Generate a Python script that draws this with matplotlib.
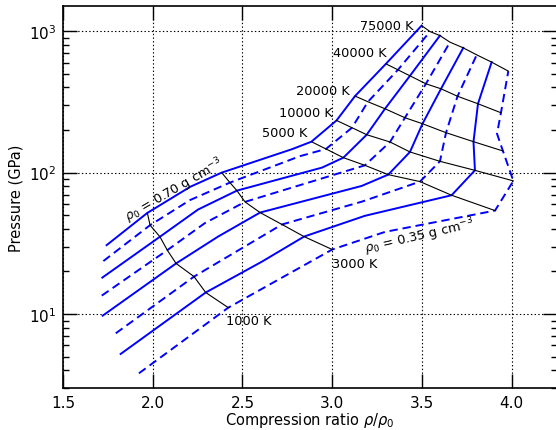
import numpy as np
import matplotlib
matplotlib.use('Agg')
import matplotlib.pyplot as plt
from matplotlib.ticker import NullLocator

nan = np.nan

# ---------------- data ----------------
rho0_values = [0.70, 0.65, 0.60, 0.55, 0.50, 0.45, 0.40, 0.35]
isotherm_T = [1000, 3000, 5000, 10000, 20000, 40000, 75000]
isotherm_labels = ['1000 K', '3000 K', '5000 K', '10000 K', '20000 K', '40000 K', '75000 K']

# Hugoniot vertices: temperature (nan = vertex between isotherms), compression ratio, pressure (GPa)
T_070 = [nan, 1000, nan, 3000, nan, 5000, 10000, 20000, 40000, 75000]
x_070 = [1.743, 1.970, 2.208, 2.384, 2.776, 2.884, 3.024, 3.127, 3.299, 3.498]
P_070 = [30.7, 51.9, 79.3, 100.0, 146.5, 165.5, 233.9, 347.8, 587.7, 1095.0]

T_065 = [nan, 1000, nan, 3000, nan, 5000, 10000, 20000, 40000, 75000]
x_065 = [1.725, 1.985, 2.208, 2.430, 2.820, 2.965, 3.110, 3.199, 3.366, 3.545]
P_065 = [23.7, 42.5, 64.0, 85.0, 130.7, 147.0, 207.8, 317.0, 533.3, 993.6]

T_060 = [nan, 1000, nan, 3000, nan, 5000, 10000, 20000, 40000, 75000]
x_060 = [1.719, 2.040, 2.252, 2.469, 2.943, 3.062, 3.192, 3.294, 3.433, 3.600]
P_060 = [18.1, 35.2, 54.8, 74.6, 108.5, 127.6, 185.4, 282.9, 483.6, 930.9]

T_055 = [nan, 1000, nan, 3000, 5000, 10000, 20000, 40000, 75000]
x_055 = [1.716, 2.081, 2.291, 2.514, 3.182, 3.322, 3.405, 3.522, 3.656]
P_055 = [13.5, 28.3, 44.0, 62.1, 112.6, 164.7, 244.4, 424.8, 836.4]

T_050 = [nan, 1000, nan, 3000, nan, 5000, 10000, 20000, 40000, 75000]
x_050 = [1.721, 2.130, 2.364, 2.598, 3.164, 3.312, 3.433, 3.503, 3.606, 3.730]
P_050 = [9.74, 22.8, 35.3, 52.2, 80.5, 96.8, 140.0, 221.7, 391.6, 762.5]

T_045 = [nan, 1000, 3000, nan, 5000, 10000, 20000, 40000, 75000]
x_045 = [1.794, 2.230, 2.720, 3.166, 3.489, 3.600, 3.634, 3.698, 3.805]
P_045 = [7.31, 18.4, 43.0, 62.4, 86.4, 120.2, 191.6, 346.7, 680.3]

T_040 = [nan, 1000, nan, 3000, nan, 5000, 10000, 20000, 40000, 75000]
x_040 = [1.821, 2.295, 2.609, 2.843, 3.182, 3.665, 3.795, 3.787, 3.812, 3.888]
P_040 = [5.22, 14.2, 23.5, 35.3, 49.5, 69.2, 103.8, 165.5, 306.9, 604.2]

T_035 = [nan, 1000, 3000, nan, 5000, 10000, 20000, nan, 40000, 75000]
x_035 = [1.923, 2.421, 3.000, 3.294, 3.907, 4.009, 3.951, 3.918, 3.940, 3.981]
P_035 = [3.81, 11.1, 28.6, 38.1, 53.9, 87.4, 142.3, 188.5, 265.1, 522.2]

hugoniots = [
    (T_070, x_070, P_070), (T_065, x_065, P_065), (T_060, x_060, P_060), (T_055, x_055, P_055),
    (T_050, x_050, P_050), (T_045, x_045, P_045), (T_040, x_040, P_040), (T_035, x_035, P_035),
]

# ---------------- layout ----------------
label_pos = {  # (x, y, ha)
    '1000 K': (2.406, 9.07, 'left'),
    '3000 K': (3.000, 22.8, 'left'),
    '5000 K': (2.859, 193.7, 'right'),
    '10000 K': (3.004, 268.0, 'right'),
    '20000 K': (3.099, 381.0, 'right'),
    '40000 K': (3.305, 711.0, 'right'),
    '75000 K': (3.450, 1095.0, 'right'),
}

plt.rcParams['lines.scale_dashes'] = False
fig = plt.figure(figsize=(5.56, 4.31), dpi=100)
W, H = 556.0, 431.0
ax = fig.add_axes([63 / W, 1 - 389 / H, 493.6 / W, (389 - 7.3) / H])
ax.set_yscale('log')

blue = '#0000ff'
for i, (T, x, P) in enumerate(hugoniots):
    if i % 2 == 0:
        ax.plot(x, P, color=blue, lw=1.4, ls='-')
    else:
        ax.plot(x, P, color=blue, lw=1.4, ls='--', dashes=(6, 3.5))

for Tiso in isotherm_T:
    xs, Ps = [], []
    for T, x, P in hugoniots:
        for t, xx, pp in zip(T, x, P):
            if t == Tiso:
                xs.append(xx)
                Ps.append(pp)
    ax.plot(xs, Ps, color='k', lw=0.8)

for lab in isotherm_labels:
    lx, ly, ha = label_pos[lab]
    ax.text(lx, ly, lab, ha=ha, va='center', fontsize=9.3)

ax.text(2.118, 75.9, r'$\rho_0$ = 0.70 g cm$^{-3}$', rotation=30, ha='center', va='center',
        rotation_mode='anchor', fontsize=9.3)
ax.text(3.489, 35.6, r'$\rho_0$ = 0.35 g cm$^{-3}$', rotation=13, ha='center', va='center',
        rotation_mode='anchor', fontsize=9.3)

ax.set_xlim(1.5, 4.25)
ax.set_ylim(3, 1500)
ax.set_xticks([1.5, 2.0, 2.5, 3.0, 3.5, 4.0])
ax.xaxis.set_minor_locator(NullLocator())
ax.grid(True, which='major', color='k', ls=':', lw=0.8)
ax.tick_params(which='both', direction='in', top=True, right=True)
ax.tick_params(which='major', length=10, width=1.0, labelsize=11, pad=5)
ax.tick_params(which='minor', length=4.5, width=1.0)
for s in ax.spines.values():
    s.set_linewidth(1.2)

ax.set_xlabel(r'Compression ratio $\rho/\rho_0$', fontsize=10.5, labelpad=0)
ax.set_ylabel('Pressure (GPa)', fontsize=10.5, labelpad=4)

fig.savefig('out.png', dpi=100)
